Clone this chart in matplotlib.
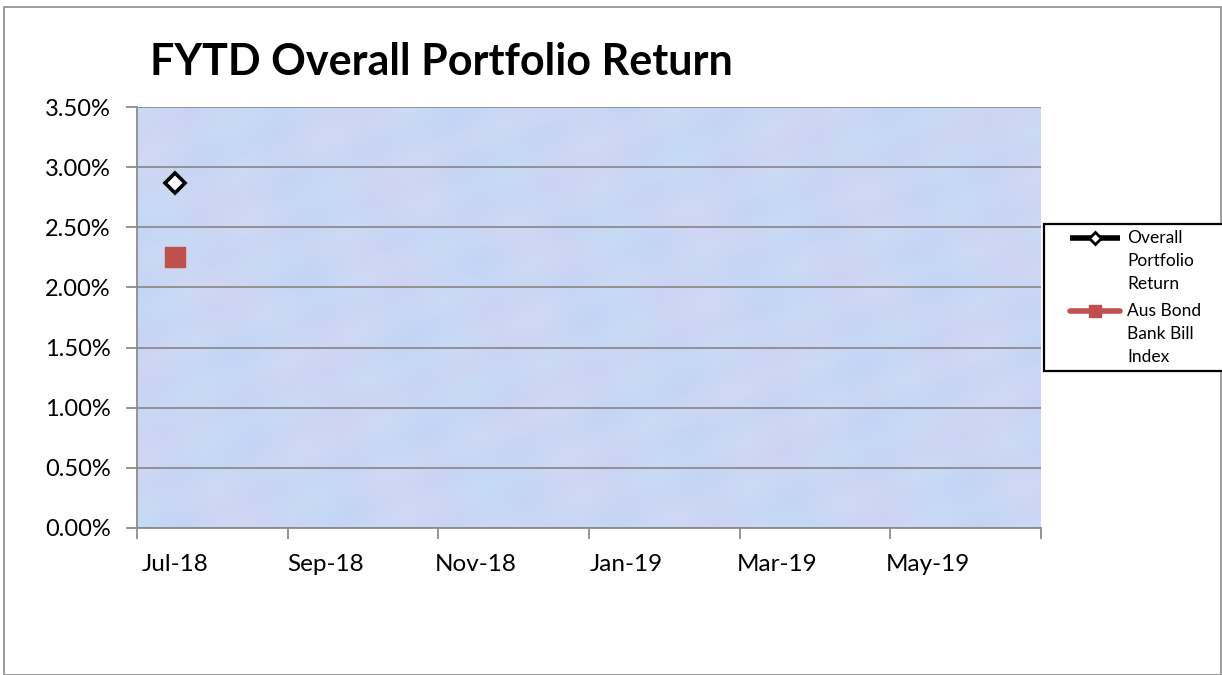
import matplotlib.pyplot as plt
import matplotlib
import numpy as np
from matplotlib.ticker import FuncFormatter, FixedLocator
from matplotlib.lines import Line2D
from matplotlib.colors import to_rgb

matplotlib.rcParams['font.family'] = ['Lato', 'DejaVu Sans']

# data
months = ['Jul-18', 'Aug-18', 'Sep-18', 'Oct-18', 'Nov-18', 'Dec-18',
          'Jan-19', 'Feb-19', 'Mar-19', 'Apr-19', 'May-19', 'Jun-19']
portfolio = [0.0287] + [np.nan] * 11
bank_bill = [0.0225] + [np.nan] * 11
y_ticks = [0.0, 0.005, 0.01, 0.015, 0.02, 0.025, 0.03, 0.035]
series_labels = ['Overall\nPortfolio\nReturn', 'Aus Bond\nBank Bill\nIndex']

W, H = 1222, 675


def fx(px):
    return px / W


def fy(py):
    return 1 - py / H


fig = plt.figure(figsize=(W / 100, H / 100), dpi=100)
# outer chart border
fig.patches.append(plt.Rectangle((fx(4), 0), fx(1217), 1 - 7 / H, transform=fig.transFigure,
                                 fill=False, edgecolor='#8c8c8c', linewidth=1.2))

ax = fig.add_axes([fx(137), fy(528), fx(904), 421 / H])

# pastel mottled background (decorative texture, like the Excel fill)
gx, gy = np.meshgrid(np.linspace(0, 1, 400), np.linspace(0, 1, 200))
pink = 0.5 + 0.5 * np.sin(gx * 31 + np.sin(gy * 9) * 2) * np.sin(gy * 17 + gx * 5)
cyan = 0.5 + 0.5 * np.sin(gx * 53 + gy * 23 + 1.3) * np.cos(gy * 29 - gx * 11)
blue = np.array(to_rgb('#c3d5f5'))
pk = np.array(to_rgb('#dcd0f2'))
cy = np.array(to_rgb('#cbe5f8'))
tex = (blue[None, None, :] * (1 - 0.45 * pink[..., None] - 0.35 * cyan[..., None])
       + pk[None, None, :] * 0.45 * pink[..., None] + cy[None, None, :] * 0.35 * cyan[..., None])
ax.imshow(np.clip(tex, 0, 1), extent=[0, 1, 0, 1], transform=ax.transAxes,
          aspect='auto', zorder=0, interpolation='bilinear')

x = np.arange(len(months))
ax.plot(x, portfolio, color='black', linewidth=4, marker='D', markersize=10,
        markerfacecolor='white', markeredgecolor='black', markeredgewidth=2.6, zorder=4)
ax.plot(x, bank_bill, color='#c0504d', linewidth=4, marker='s', markersize=14,
        markerfacecolor='#c0504d', markeredgecolor='#c0504d', zorder=4)

ax.set_xlim(-0.5, len(months) - 0.5)
ax.set_ylim(0, 0.035)
ax.set_yticks(y_ticks)
ax.yaxis.set_major_formatter(FuncFormatter(lambda v, p: '%.2f%%' % (v * 100)))
ax.grid(axis='y', color='#8c8c8c', linewidth=1.3, zorder=1)

# tick marks on category boundaries, labels on every other category
ax.xaxis.set_major_locator(FixedLocator(np.arange(-0.5, len(months), 2)))
ax.xaxis.set_major_formatter(FuncFormatter(lambda v, p: ''))
ax.xaxis.set_minor_locator(FixedLocator(x[::2]))
ax.set_xticklabels([months[i] for i in x[::2]], minor=True)
ax.tick_params(axis='x', which='major', length=8, width=1.3, color='#8c8c8c')
ax.tick_params(axis='x', which='minor', length=0, pad=19, labelsize=17.5)
ax.tick_params(axis='y', length=8, width=1.3, color='#8c8c8c', pad=11, labelsize=17)

for s in ['top', 'right']:
    ax.spines[s].set_visible(False)
for s in ['left', 'bottom']:
    ax.spines[s].set_color('#8c8c8c')
    ax.spines[s].set_linewidth(1.3)
    ax.spines[s].set_zorder(3)

fig.text(fx(150), fy(62), 'FYTD Overall Portfolio Return', fontsize=31,
         fontweight='bold', va='center', ha='left')

# legend box drawn like Excel's: handle aligned with the first line of each label
fig.patches.append(plt.Rectangle((fx(1044), fy(371)), fx(190), 147 / H, transform=fig.transFigure,
                                 fill=True, facecolor='white', edgecolor='black', linewidth=1.6))
handle_colors = ['black', '#c0504d']
handle_caps = ['butt', 'round']
handle_markers = [dict(marker='D', markersize=6, markerfacecolor='white',
                       markeredgecolor='black', markeredgewidth=2),
                  dict(marker='s', markersize=8, markerfacecolor='#c0504d',
                       markeredgecolor='#c0504d')]
for i, lab in enumerate(series_labels):
    ytop = 238 + i * 73
    fig.lines.append(Line2D([fx(1070), fx(1120)], [fy(ytop), fy(ytop)], transform=fig.transFigure,
                            linewidth=4, color=handle_colors[i], solid_capstyle=handle_caps[i]))
    fig.lines.append(Line2D([fx(1095)], [fy(ytop)], transform=fig.transFigure, linestyle='none',
                            **handle_markers[i]))
    for j, line in enumerate(lab.split('\n')):
        fig.text(fx(1127), fy(ytop + j * 23), line, fontsize=12.5, va='center', ha='left')

plt.savefig('out.png', dpi=100)
